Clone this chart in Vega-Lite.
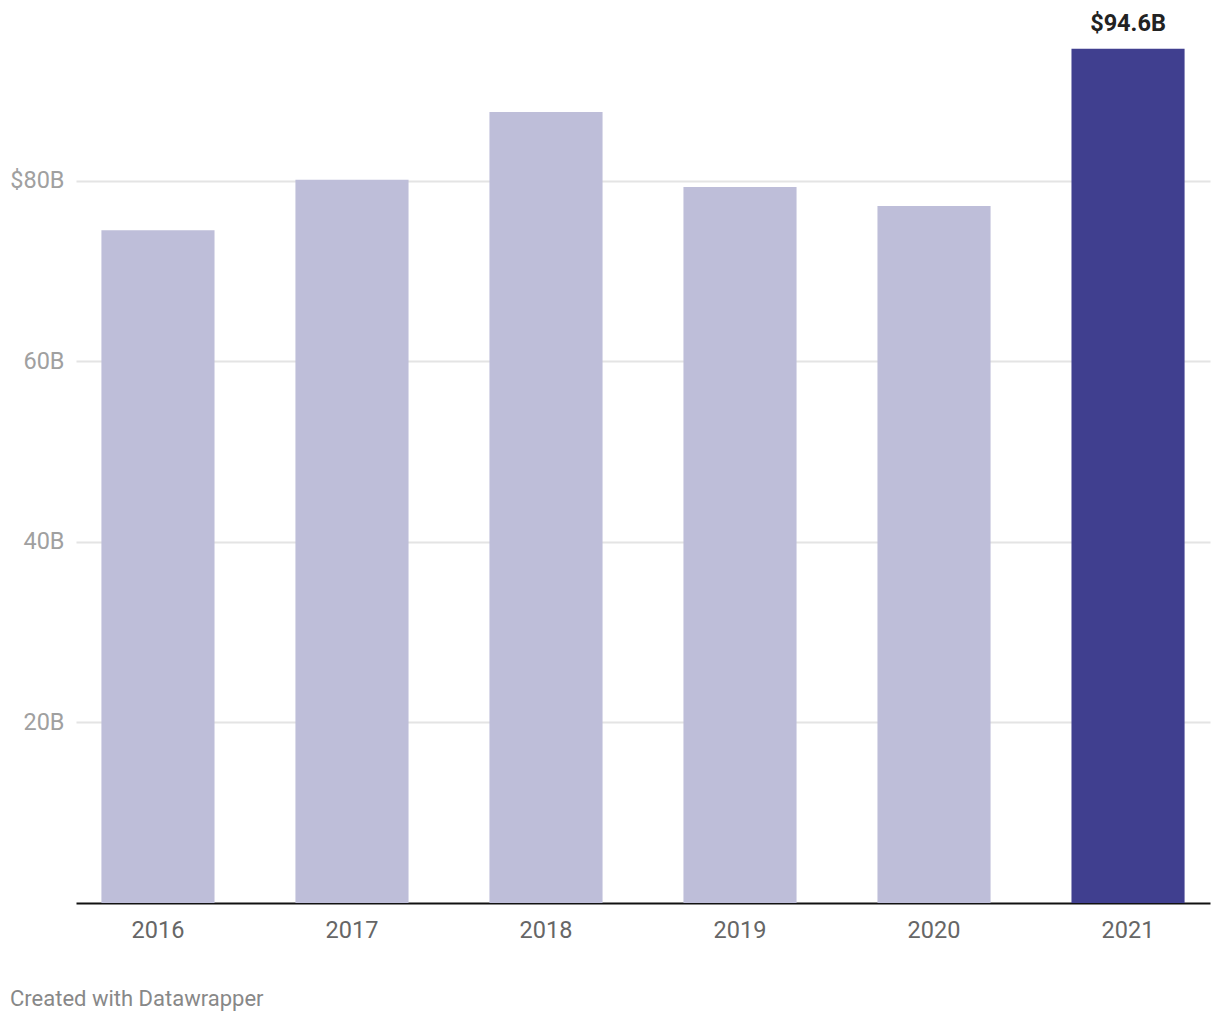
{
  "$schema": "https://vega.github.io/schema/vega-lite/v6.json",
  "width": 1134,
  "height": 903,
  "autosize": {"type": "none"},
  "padding": {"left": 76, "top": 0, "right": 10, "bottom": 117},
  "background": "white",
  "config": {
    "view": {"stroke": null},
    "font": "Roboto"
  },
  "title": {
    "text": "Created with Datawrapper",
    "orient": "bottom",
    "anchor": "start",
    "frame": "group",
    "dx": -66,
    "offset": 47,
    "fontSize": 22,
    "fontWeight": "normal",
    "color": "#888888",
    "font": "Roboto"
  },
  "data": {
    "values": [
      {"year": "2016", "value": 74.5, "highlight": "no", "label": ""},
      {"year": "2017", "value": 80.1, "highlight": "no", "label": ""},
      {"year": "2018", "value": 87.6, "highlight": "no", "label": ""},
      {"year": "2019", "value": 79.3, "highlight": "no", "label": ""},
      {"year": "2020", "value": 77.2, "highlight": "no", "label": ""},
      {"year": "2021", "value": 94.6, "highlight": "yes", "label": "$94.6B"}
    ]
  },
  "encoding": {
    "x": {
      "field": "year",
      "type": "ordinal",
      "scale": {"paddingInner": 0.417, "paddingOuter": 0.131},
      "axis": {
        "title": null,
        "labelAngle": 0,
        "labelFontSize": 23.5,
        "labelColor": "#666666",
        "labelPadding": 15,
        "ticks": false,
        "domainColor": "#111111",
        "domainWidth": 2,
        "grid": false
      }
    },
    "y": {
      "field": "value",
      "type": "quantitative",
      "scale": {"domain": [0, 100], "nice": false},
      "axis": {
        "title": null,
        "values": [20, 40, 60, 80],
        "labelExpr": "datum.value == 80 ? '$80B' : datum.value + 'B'",
        "labelFontSize": 23.5,
        "labelColor": "#a0a0a0",
        "labelPadding": 12,
        "ticks": false,
        "domain": false,
        "grid": true,
        "gridColor": "#e4e4e4",
        "gridWidth": 2
      }
    }
  },
  "layer": [
    {
      "mark": {"type": "bar"},
      "encoding": {
        "color": {
          "field": "highlight",
          "type": "nominal",
          "scale": {"domain": ["no", "yes"], "range": ["#bebed9", "#403f8f"]},
          "legend": null
        }
      }
    },
    {
      "mark": {"type": "text", "baseline": "bottom", "dy": -13, "fontSize": 23.5, "fontWeight": "bold", "color": "#222222"},
      "encoding": {
        "text": {"field": "label", "type": "nominal"}
      }
    }
  ]
}
